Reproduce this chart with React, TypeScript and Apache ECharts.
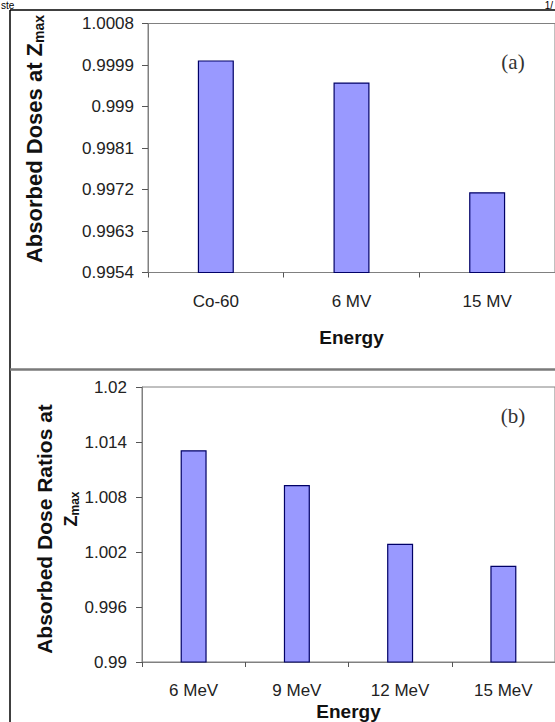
import React, { useEffect, useRef } from "react";
import * as echarts from "echarts";

const categoriesA = ["Co-60", "6 MV", "15 MV"];
const valuesA = [1.0, 0.99952, 0.99714];
const categoriesB = ["6 MeV", "9 MeV", "12 MeV", "15 MeV"];
const valuesB = [1.0131, 1.0093, 1.0029, 1.0005];
const axisA = { min: 0.9954, max: 1.0008, interval: 0.0009 };
const axisB = { min: 0.99, max: 1.02, interval: 0.006 };

const FONT = "'Liberation Sans', Arial, sans-serif";
const SERIF = "'Liberation Serif', 'Times New Roman', serif";

const fmt = (v: number) => String(parseFloat(v.toFixed(4)));

export default function App() {
  const ref = useRef<HTMLDivElement>(null);
  useEffect(() => {
    if (!ref.current) return;
    const chart = echarts.init(ref.current, undefined, { renderer: "svg" });
    const axisLine = { show: true, lineStyle: { color: "#808080", width: 1 } };
    const tick = { show: true, length: 5, lineStyle: { color: "#555", width: 1 } };
    const xLabel = { fontSize: 17, color: "#222", fontFamily: FONT, margin: 20 };
    const yLabel = (m: number) => ({ fontSize: 17, color: "#222", fontFamily: FONT, margin: m, formatter: fmt });
    const nameStyle = { fontSize: 19, fontWeight: "bold" as const, color: "#111", fontFamily: FONT };
    const barStyle = { color: "#9999FF", borderColor: "#000066", borderWidth: 1.2 };
    chart.setOption({
      animation: false,
      backgroundColor: "#ffffff",
      textStyle: { fontFamily: FONT },
      grid: [
        { left: 148, top: 23.5, width: 418.5, height: 249, show: true, borderColor: "#808080", borderWidth: 1 },
        { left: 142, top: 387, width: 418.4, height: 276, show: true, borderColor: "#808080", borderWidth: 1 },
      ],
      xAxis: [
        {
          type: "category", gridIndex: 0, data: categoriesA,
          axisLine, axisTick: tick, axisLabel: xLabel,
          name: "Energy", nameLocation: "middle", nameGap: 55, nameTextStyle: nameStyle,
        },
        {
          type: "category", gridIndex: 1, data: categoriesB,
          axisLine, axisTick: tick, axisLabel: xLabel,
          name: "Energy", nameLocation: "middle", nameGap: 40, nameTextStyle: nameStyle,
        },
      ],
      yAxis: [
        {
          type: "value", gridIndex: 0, ...axisA,
          axisLine, axisTick: { ...tick, length: 6 }, splitLine: { show: false }, axisLabel: yLabel(14),
        },
        {
          type: "value", gridIndex: 1, ...axisB,
          axisLine, axisTick: { ...tick, length: 6 }, splitLine: { show: false }, axisLabel: yLabel(15),
        },
      ],
      series: [
        { type: "bar", xAxisIndex: 0, yAxisIndex: 0, data: valuesA, barWidth: 36, itemStyle: barStyle },
        { type: "bar", xAxisIndex: 1, yAxisIndex: 1, data: valuesB, barWidth: 26, itemStyle: barStyle },
      ],
      graphic: [
        { type: "line", shape: { x1: 10, y1: 10, x2: 555, y2: 10 }, style: { stroke: "#000", lineWidth: 1.5 } },
        { type: "line", shape: { x1: 10, y1: 10, x2: 10, y2: 722 }, style: { stroke: "#000", lineWidth: 1.5 } },
        { type: "line", shape: { x1: 10, y1: 369.5, x2: 555, y2: 369.5 }, style: { stroke: "#7a7a7a", lineWidth: 2.5 } },
        { type: "text", x: 1, y: 0, style: { text: "ste", fontSize: 10, fontFamily: FONT, fill: "#000", align: "left", verticalAlign: "top" } },
        { type: "text", x: 553, y: 0, style: { text: "1/", fontSize: 10, fontFamily: FONT, fill: "#000", align: "right", verticalAlign: "top" } },
        { type: "text", x: 513, y: 62, style: { text: "(a)", fontSize: 21, fontFamily: SERIF, fill: "#333", align: "center", verticalAlign: "middle" } },
        { type: "text", x: 513, y: 416, style: { text: "(b)", fontSize: 21, fontFamily: SERIF, fill: "#333", align: "center", verticalAlign: "middle" } },
        {
          type: "text", x: 34, y: 139, rotation: Math.PI / 2,
          style: {
            text: "{a|Absorbed Doses at Z}{s|max}", align: "center", verticalAlign: "middle",
            rich: {
              a: { fontSize: 22, fontWeight: "bold", fontFamily: FONT, fill: "#111", lineHeight: 24 },
              s: { fontSize: 14, fontWeight: "bold", fontFamily: FONT, fill: "#111", lineHeight: 14, verticalAlign: "bottom" },
            },
          },
        },
        {
          type: "text", x: 44, y: 529, rotation: Math.PI / 2,
          style: { text: "Absorbed Dose Ratios at", fontSize: 21, fontWeight: "bold", fontFamily: FONT, fill: "#111", align: "center", verticalAlign: "middle" },
        },
        {
          type: "text", x: 71, y: 509, rotation: Math.PI / 2,
          style: {
            text: "{a|Z}{s|max}", align: "center", verticalAlign: "middle",
            rich: {
              a: { fontSize: 18, fontWeight: "bold", fontFamily: FONT, fill: "#111", lineHeight: 20 },
              s: { fontSize: 12, fontWeight: "bold", fontFamily: FONT, fill: "#111", lineHeight: 12, verticalAlign: "bottom" },
            },
          },
        },
      ],
    });
    return () => chart.dispose();
  }, []);
  return <div ref={ref} style={{ position: "absolute", left: 0, top: 0, width: 555, height: 722 }} />;
}
